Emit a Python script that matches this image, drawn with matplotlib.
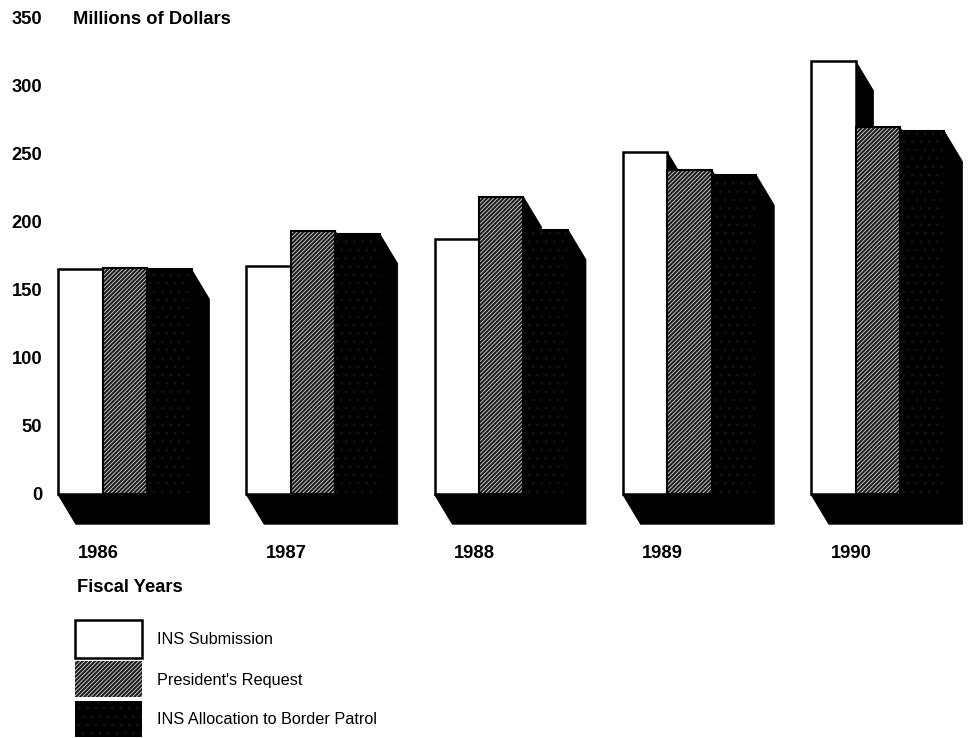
import matplotlib
matplotlib.use('Agg')
import matplotlib.pyplot as plt
from matplotlib.patches import Polygon, Rectangle

years = ['1986', '1987', '1988', '1989', '1990']
ins_submission = [165, 167, 187, 251, 318]
presidents_request = [166, 193, 218, 238, 269]
border_patrol = [165, 191, 194, 234, 266]
y_ticks = [0, 50, 100, 150, 200, 250, 300, 350]
legend_labels = ['INS Submission', "President's Request", 'INS Allocation to Border Patrol']

plt.rcParams['font.family'] = ['Liberation Sans', 'DejaVu Sans']
plt.rcParams['hatch.linewidth'] = 0.7

W, H = 969, 738
fig = plt.figure(figsize=(W / 100, H / 100), dpi=100)
ax = fig.add_axes([58 / W, 1 - 494 / H, (W - 58) / W, (494 - 17) / H])

group = 188.25
bar_w = 44.5 / group
dx = 18 / group
dy = 30 * 350 / 477
ax.set_xlim(0, (W - 58) / group)
ax.set_ylim(0, 350)

styles = [
    dict(facecolor='white', edgecolor='black', linewidth=1.8),
    dict(facecolor='#1a1a1a', edgecolor='#c4c4c4', hatch='////////', linewidth=0),
    dict(facecolor='black', edgecolor='#161616', hatch='..', linewidth=0),
]
series = [ins_submission, presidents_request, border_patrol]

for i in range(len(years)):
    # floor shadow under the group
    right = i + 3 * bar_w
    ax.add_patch(Polygon([(i, 0), (right, 0), (right + dx, -dy), (i + dx, -dy)],
                         facecolor='black', edgecolor='black', clip_on=False))
    for s, vals in enumerate(series):
        x0 = i + s * bar_w
        x1 = x0 + bar_w
        v = vals[i]
        # side of the 3d bar
        ax.add_patch(Polygon([(x1, v), (x1 + dx, v - dy), (x1 + dx, -dy), (x1, 0)],
                             facecolor='black', edgecolor='black', linewidth=0.5,
                             clip_on=False, zorder=2 + s * 2))
        ax.add_patch(Rectangle((x0, 0), bar_w, v, clip_on=False, zorder=3 + s * 2, **styles[s]))
        if s > 0:
            ax.add_patch(Rectangle((x0, 0), bar_w, v, fill=False, edgecolor='black', linewidth=1.5,
                                   clip_on=False, zorder=3 + s * 2))

for spine in ax.spines.values():
    spine.set_visible(False)
ax.patch.set_visible(False)
ax.set_yticks(y_ticks)
ax.set_xticks([i + 40 / group for i in range(len(years))])
ax.set_xticklabels(years)
ax.tick_params(length=0, labelsize=13.2)
ax.tick_params(axis='y', pad=11.5)
ax.tick_params(axis='x', pad=37)
for lab in ax.get_xticklabels() + ax.get_yticklabels():
    lab.set_fontweight('bold')

fig.text(73 / W, 1 - 19 / H, 'Millions of Dollars', fontsize=13.2, fontweight='bold', va='center')
fig.text(77 / W, 1 - 587 / H, 'Fiscal Years', fontsize=13.2, fontweight='bold', va='center')

# legend boxes
boxes = [(620, 38), (661, 36), (701, 36)]
for (top, h), st, lab in zip(boxes, styles, legend_labels):
    fig.add_artist(Rectangle((75 / W, 1 - (top + h) / H), 67 / W, h / H,
                             transform=fig.transFigure, **st))
    fig.text(157 / W, 1 - (top + h / 2 + 1) / H, lab, fontsize=11.7, va='center')

plt.savefig('out.png', dpi=100)
plt.close()
